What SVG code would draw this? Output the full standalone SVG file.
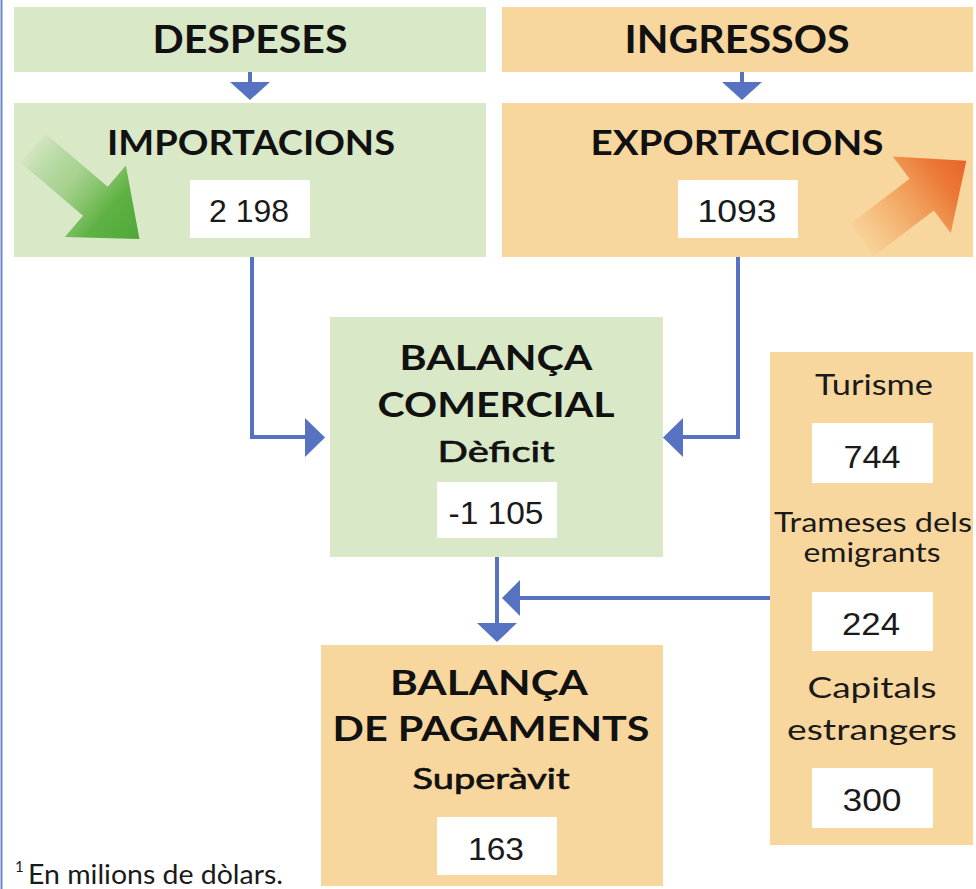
<svg xmlns="http://www.w3.org/2000/svg" width="976" height="889" viewBox="0 0 976 889">
<defs>
<style>
.g{fill:#d9e8c7}
.o{fill:#f8d79f}
.wb{fill:#ffffff}
.h{font-family:Lato,"Noto Sans",sans-serif;font-weight:700;fill:#111;text-anchor:middle}
.m{font-family:Lato,"Noto Sans",sans-serif;font-weight:400;fill:#111;stroke:#111;stroke-width:0.7;stroke-linejoin:round;text-anchor:middle}
.s{font-family:Lato,"Noto Sans",sans-serif;font-weight:400;fill:#1a1a1a;text-anchor:middle}
.n{font-family:"Liberation Sans",Arial,sans-serif;fill:#1a1a1a;text-anchor:middle}
.ln{fill:none;stroke:#5672c0;stroke-width:4}
.hd{fill:#5672c0}
</style>
<linearGradient id="gg" x1="0" y1="0" x2="1" y2="0">
<stop offset="0" stop-color="#5cb040" stop-opacity="0.05"/>
<stop offset="0.35" stop-color="#7fc063" stop-opacity="0.55"/>
<stop offset="0.7" stop-color="#5fb143"/>
<stop offset="1" stop-color="#4fa838"/>
</linearGradient>
<linearGradient id="og" x1="0" y1="0" x2="1" y2="0">
<stop offset="0" stop-color="#f4a25a" stop-opacity="0.1"/>
<stop offset="0.4" stop-color="#f0954d" stop-opacity="0.7"/>
<stop offset="0.75" stop-color="#ec7a38"/>
<stop offset="1" stop-color="#e8642a"/>
</linearGradient>
</defs>
<rect width="976" height="889" fill="#ffffff"/>
<line x1="1.5" y1="0" x2="1.5" y2="889" stroke="#6d86c8" stroke-width="2"/>

<g id="despeses">
<rect class="g" x="14" y="7" width="472" height="65"/>
<text class="h" x="250" y="53" font-size="38" textLength="195" lengthAdjust="spacingAndGlyphs">DESPESES</text>
</g>
<g id="ingressos">
<rect class="o" x="502" y="7" width="471" height="65"/>
<text class="h" x="737" y="53" font-size="38" textLength="225" lengthAdjust="spacingAndGlyphs">INGRESSOS</text>
</g>

<g id="importacions">
<rect class="g" x="14" y="103" width="472" height="154"/>
<polygon fill="url(#gg)" transform="translate(33,148) rotate(40.5)" points="0,-19 82,-19 82,-47 140,0 82,47 82,19 0,19"/>
<text class="h" x="251" y="155" font-size="35" textLength="288" lengthAdjust="spacingAndGlyphs">IMPORTACIONS</text>
<rect class="wb" x="190" y="180" width="120" height="58"/>
<text class="n" x="249" y="222" font-size="31" textLength="80" lengthAdjust="spacingAndGlyphs">2 198</text>
</g>

<g id="exportacions">
<rect class="o" x="502" y="103" width="471" height="154"/>
<polygon fill="url(#og)" transform="translate(862,240) rotate(-37.2)" points="0,-20 75,-20 75,-48 131,0 75,48 75,20 0,20"/>
<text class="h" x="737" y="155" font-size="35" textLength="293" lengthAdjust="spacingAndGlyphs">EXPORTACIONS</text>
<rect class="wb" x="678" y="180" width="120" height="58"/>
<text class="n" x="737" y="222" font-size="31" textLength="79" lengthAdjust="spacingAndGlyphs">1093</text>
</g>

<g id="balanca-comercial">
<rect class="g" x="330" y="317" width="333" height="240"/>
<text class="h" x="496" y="370" font-size="35" textLength="193" lengthAdjust="spacingAndGlyphs">BALANÇA</text>
<text class="h" x="496" y="417" font-size="35" textLength="237" lengthAdjust="spacingAndGlyphs">COMERCIAL</text>
<text class="m" x="496" y="462" font-size="29" textLength="117" lengthAdjust="spacingAndGlyphs">Dèficit</text>
<rect class="wb" x="437" y="482" width="120" height="56"/>
<text class="n" x="496" y="524" font-size="31" textLength="95" lengthAdjust="spacingAndGlyphs">-1 105</text>
</g>

<g id="altres-ingressos">
<rect class="o" x="770" y="352" width="203" height="493"/>
<text class="s" x="874" y="395" font-size="29" textLength="118" lengthAdjust="spacingAndGlyphs">Turisme</text>
<rect class="wb" x="812" y="423" width="121" height="60"/>
<text class="n" x="872" y="468" font-size="31" textLength="57" lengthAdjust="spacingAndGlyphs">744</text>
<text class="s" x="873" y="532" font-size="27" textLength="198" lengthAdjust="spacingAndGlyphs">Trameses dels</text>
<text class="s" x="872" y="562" font-size="27" textLength="137" lengthAdjust="spacingAndGlyphs">emigrants</text>
<rect class="wb" x="812" y="592" width="121" height="59"/>
<text class="n" x="871" y="635" font-size="31" textLength="58" lengthAdjust="spacingAndGlyphs">224</text>
<text class="s" x="872" y="698" font-size="29" textLength="129" lengthAdjust="spacingAndGlyphs">Capitals</text>
<text class="s" x="872" y="740" font-size="29" textLength="170" lengthAdjust="spacingAndGlyphs">estrangers</text>
<rect class="wb" x="812" y="768" width="121" height="60"/>
<text class="n" x="872" y="811" font-size="31" textLength="59" lengthAdjust="spacingAndGlyphs">300</text>
</g>

<g id="balanca-pagaments">
<rect class="o" x="321" y="645" width="342" height="241"/>
<text class="h" x="489" y="695" font-size="35" textLength="198" lengthAdjust="spacingAndGlyphs">BALANÇA</text>
<text class="h" x="491" y="741" font-size="35" textLength="317" lengthAdjust="spacingAndGlyphs">DE PAGAMENTS</text>
<text class="m" x="491" y="789" font-size="29" textLength="157" lengthAdjust="spacingAndGlyphs">Superàvit</text>
<rect class="wb" x="437" y="817" width="120" height="58"/>
<text class="n" x="496" y="860" font-size="31" textLength="56" lengthAdjust="spacingAndGlyphs">163</text>
</g>

<g id="connectors">
<line class="ln" x1="250" y1="72" x2="250" y2="84"/>
<polygon class="hd" points="230,82 270,82 250,100"/>
<line class="ln" x1="742" y1="72" x2="742" y2="84"/>
<polygon class="hd" points="722,82 762,82 742,100"/>
<polyline class="ln" points="252,257 252,437 307,437"/>
<polygon class="hd" points="305,418 325,437.5 305,457"/>
<polyline class="ln" points="738,257 738,437 681,437"/>
<polygon class="hd" points="683,418 663,437.5 683,457"/>
<line class="ln" x1="497" y1="557" x2="497" y2="625"/>
<polygon class="hd" points="477,623 517,623 497,642"/>
<line class="ln" x1="518" y1="598" x2="770" y2="598"/>
<polygon class="hd" points="520,580 502,598 520,616"/>
</g>

<g id="footnote">
<text font-family="Lato,'Noto Sans',sans-serif" font-size="15" fill="#1a1a1a" x="15" y="872">1</text>
<text font-family="Lato,'Noto Sans',sans-serif" font-size="26" fill="#1a1a1a" x="28" y="884" textLength="255" lengthAdjust="spacingAndGlyphs">En milions de dòlars.</text>
</g>
</svg>
